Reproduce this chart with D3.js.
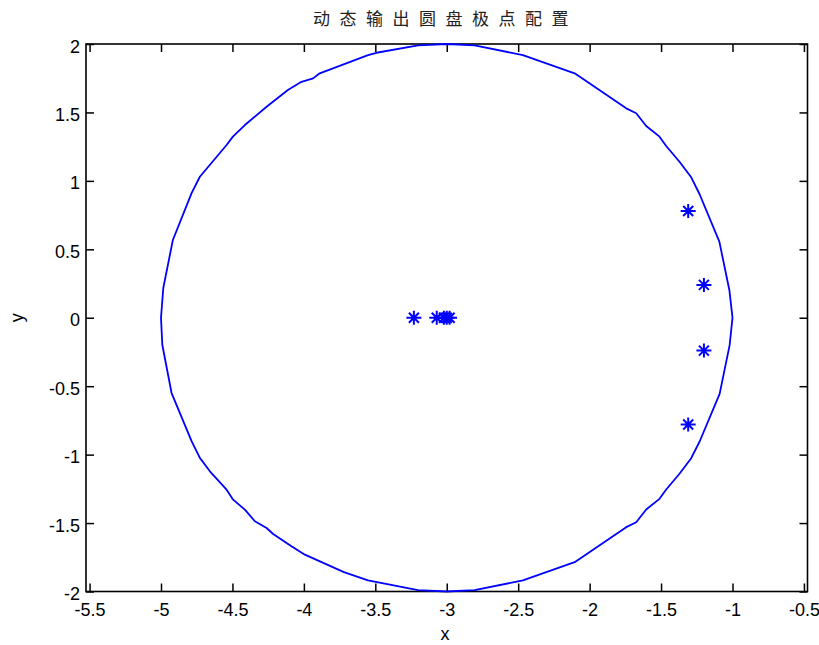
<!DOCTYPE html>
<html>
  <head>
    <meta charset="utf-8">
    <title>动态输出圆盘极点配置</title>
    <script src="https://d3js.org/d3.v7.min.js"></script>
    <style>
      body { margin: 0; background: #fff; }
      text { font-family: "Liberation Sans", Arial, sans-serif; }
    </style>
  </head>

  <body>
    <script>
      // circle outline vertices
      var circleX = [-5.000, -4.984, -4.917, -4.786, -4.728, -4.541, -4.497, -4.413, -4.261, -4.112,
                     -4.017, -3.935, -3.889, -3.551, -3.492, -3.201, -3.000, -2.805, -2.467, -2.105,
                     -2.035, -1.744, -1.674, -1.604, -1.511, -1.464, -1.371, -1.289, -1.231, -1.092,
                     -1.022, -1.000,
                     -1.020, -1.090, -1.230, -1.289, -1.371, -1.464, -1.511, -1.604, -1.674, -1.744,
                     -2.035, -2.105, -2.467, -2.805, -3.000, -3.201, -3.551, -3.720, -3.993, -4.087,
                     -4.215, -4.261, -4.343, -4.413, -4.495, -4.541, -4.658, -4.728, -4.786, -4.926,
                     -4.991, -5.000];
      var circleY = [0.000, 0.217, 0.568, 0.911, 1.030, 1.262, 1.323, 1.408, 1.542, 1.664,
                     1.724, 1.749, 1.786, 1.919, 1.936, 1.990, 2.000, 1.990, 1.919, 1.786,
                     1.737, 1.530, 1.494, 1.401, 1.323, 1.255, 1.140, 1.026, 0.904, 0.556,
                     0.203, 0.000,
                     -0.200, -0.556, -0.904, -1.026, -1.140, -1.255, -1.323, -1.401, -1.494, -1.530,
                     -1.737, -1.786, -1.919, -1.990, -2.000, -1.990, -1.919, -1.858, -1.731, -1.670,
                     -1.580, -1.536, -1.487, -1.402, -1.329, -1.256, -1.122, -1.024, -0.902, -0.550,
                     -0.197, 0.000];

      // poles
      var poleX = [-3.23, -3.07, -3.02, -3.00, -2.98, -1.31, -1.20, -1.20, -1.31];
      var poleY = [0, 0, 0, 0, 0, 0.78, 0.24, -0.24, -0.78];

      var xTicks = [-5.5, -5, -4.5, -4, -3.5, -3, -2.5, -2, -1.5, -1, -0.5];
      var yTicks = [-2, -1.5, -1, -0.5, 0, 0.5, 1, 1.5, 2];

      var width = 819, height = 645;
      var m = { left: 86, right: 807.5, top: 44, bottom: 591.5 };
      var blue = "#0000ff";
      var fmt = function(d) { return String(d); };

      var svg = d3.select("body")
        .append("svg")
          .attr("width", width)
          .attr("height", height);

      var x = d3.scaleLinear().domain([-5.525, -0.475]).range([m.left, m.right]);
      var y = d3.scaleLinear().domain([-2, 2]).range([m.bottom, m.top]);

      // axes with inward ticks
      var xAxis = svg.append("g")
          .attr("transform", "translate(0," + m.bottom + ")")
          .call(d3.axisBottom(x).tickValues(xTicks).tickSize(-8).tickPadding(12).tickFormat(fmt));
      var yAxis = svg.append("g")
          .attr("transform", "translate(" + m.left + ",0)")
          .call(d3.axisLeft(y).tickValues(yTicks).tickSize(-8).tickPadding(6).tickFormat(fmt));
      var xTop = svg.append("g")
          .attr("transform", "translate(0," + m.top + ")")
          .call(d3.axisTop(x).tickValues(xTicks).tickSize(-8).tickFormat(""));
      var yRight = svg.append("g")
          .attr("transform", "translate(" + m.right + ",0)")
          .call(d3.axisRight(y).tickValues(yTicks).tickSize(-8).tickFormat(""));

      [xAxis, yAxis, xTop, yRight].forEach(function(a) {
        a.select(".domain").remove();
        a.selectAll("line").attr("stroke", "#000").attr("stroke-width", 1.5);
        a.selectAll("text")
          .attr("fill", "#000")
          .style("font-family", "'Liberation Sans', Arial, sans-serif")
          .style("font-size", "18px");
      });
      yAxis.selectAll("text").attr("dy", "0.45em");

      // frame
      svg.append("rect")
          .attr("x", m.left)
          .attr("y", m.top)
          .attr("width", m.right - m.left)
          .attr("height", m.bottom - m.top)
          .attr("fill", "none")
          .attr("stroke", "#000")
          .attr("stroke-width", 1.6);

      // circle
      var pts = circleX.map(function(d, i) { return [d, circleY[i]]; });
      svg.append("path")
          .datum(pts)
          .attr("fill", "none")
          .attr("stroke", blue)
          .attr("stroke-width", 1.8)
          .attr("stroke-linejoin", "round")
          .attr("d", d3.line().x(function(d) { return x(d[0]); }).y(function(d) { return y(d[1]); }));

      // star markers
      var poles = poleX.map(function(d, i) { return [d, poleY[i]]; });
      var star = "M-7.5,0H7.5M0,-7V7M-5,-5L5,5M-5,5L5,-5";
      svg.selectAll(".pole")
        .data(poles)
        .enter()
        .append("path")
          .attr("class", "pole")
          .attr("transform", function(d) { return "translate(" + x(d[0]) + "," + y(d[1]) + ")"; })
          .attr("d", star)
          .attr("fill", "none")
          .attr("stroke", blue)
          .attr("stroke-width", 2);

      // labels
      svg.append("text")
          .attr("x", 445)
          .attr("y", 640)
          .attr("text-anchor", "middle")
          .style("font-size", "18px")
          .text("x");
      svg.append("text")
          .attr("transform", "translate(23," + ((m.top + m.bottom) / 2) + ") rotate(-90)")
          .attr("text-anchor", "middle")
          .style("font-size", "18px")
          .text("y");

      svg.append("text")
          .attr("x", 313)
          .attr("y", 25)
          .attr("fill", "#222")
          .style("font-family", "'Noto Sans CJK SC', sans-serif")
          .style("font-size", "17px")
          .style("letter-spacing", "9.5px")
          .text("动态输出圆盘极点配置");
    </script>
  </body>
</html>
